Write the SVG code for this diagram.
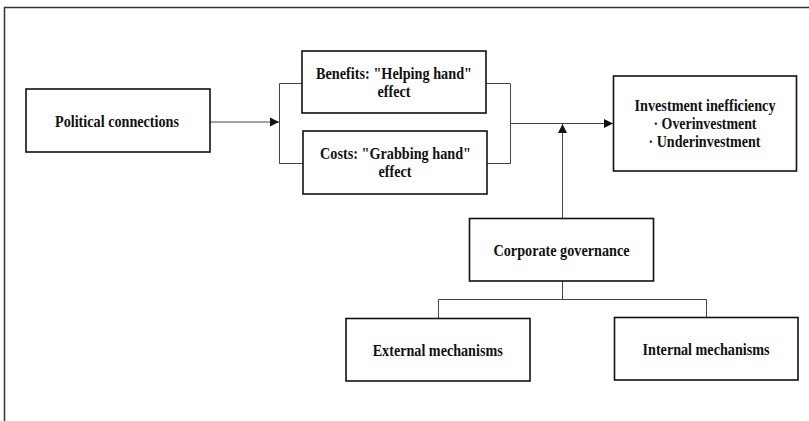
<svg xmlns="http://www.w3.org/2000/svg" width="809" height="421" viewBox="0 0 809 421">
<style>
.box{fill:#fff;stroke:#111;stroke-width:1.6}
.lbl{font-family:"Liberation Serif","Times New Roman",serif;font-weight:bold;font-size:17px;fill:#111;text-anchor:middle}
.conn{fill:none;stroke:#444;stroke-width:1}
.frame{fill:none;stroke:#333;stroke-width:1.5}
</style>
<defs>
<marker id="arr" markerWidth="10" markerHeight="10" refX="9" refY="5" orient="auto" markerUnits="userSpaceOnUse">
<path d="M0,0.5 L9,5 L0,9.5 Z" fill="#111"/>
</marker>
</defs>
<rect width="809" height="421" fill="#fff"/>
<path class="frame" d="M4.5,421 V7.5 H809"/>
<g id="connectors">
<path class="conn" d="M210,122 H279" marker-end="url(#arr)"/>
<path class="conn" d="M302,83.5 H279.5 V163.5 H303"/>
<path class="conn" d="M486,83.5 H510.5 V163.5 H487"/>
<path class="conn" d="M510.5,123.5 H613" marker-end="url(#arr)"/>
<path class="conn" d="M562.5,218 V124" marker-end="url(#arr)"/>
<path class="conn" d="M562.5,281 V299.5 M438.5,318 V299.5 H706.5 V317"/>
</g>
<g id="political">
<rect class="box" x="26" y="89" width="184" height="63"/>
<text class="lbl" x="117" y="127" textLength="124" lengthAdjust="spacingAndGlyphs">Political connections</text>
</g>
<g id="benefits">
<rect class="box" x="302" y="51" width="184" height="62"/>
<text class="lbl" x="394" y="79" textLength="156" lengthAdjust="spacingAndGlyphs">Benefits: "Helping hand"</text>
<text class="lbl" x="394" y="97" textLength="33" lengthAdjust="spacingAndGlyphs">effect</text>
</g>
<g id="costs">
<rect class="box" x="303" y="131" width="184" height="63"/>
<text class="lbl" x="395.5" y="159" textLength="151" lengthAdjust="spacingAndGlyphs">Costs: "Grabbing hand"</text>
<text class="lbl" x="395" y="177" textLength="33" lengthAdjust="spacingAndGlyphs">effect</text>
</g>
<g id="investment">
<rect class="box" x="613.5" y="76" width="183" height="95"/>
<text class="lbl" x="705" y="110.5" textLength="141" lengthAdjust="spacingAndGlyphs">Investment inefficiency</text>
<text class="lbl" x="705" y="129" textLength="103" lengthAdjust="spacingAndGlyphs">· Overinvestment</text>
<text class="lbl" x="704.5" y="146.5" textLength="112" lengthAdjust="spacingAndGlyphs">· Underinvestment</text>
</g>
<g id="governance">
<rect class="box" x="469.5" y="218.5" width="184" height="62.5"/>
<text class="lbl" x="561.5" y="256" textLength="136" lengthAdjust="spacingAndGlyphs">Corporate governance</text>
</g>
<g id="external">
<rect class="box" x="346" y="318.5" width="184" height="62.5"/>
<text class="lbl" x="437.7" y="356" textLength="130" lengthAdjust="spacingAndGlyphs">External mechanisms</text>
</g>
<g id="internal">
<rect class="box" x="614.5" y="317.5" width="183.5" height="62.5"/>
<text class="lbl" x="706" y="355" textLength="127" lengthAdjust="spacingAndGlyphs">Internal mechanisms</text>
</g>
</svg>
